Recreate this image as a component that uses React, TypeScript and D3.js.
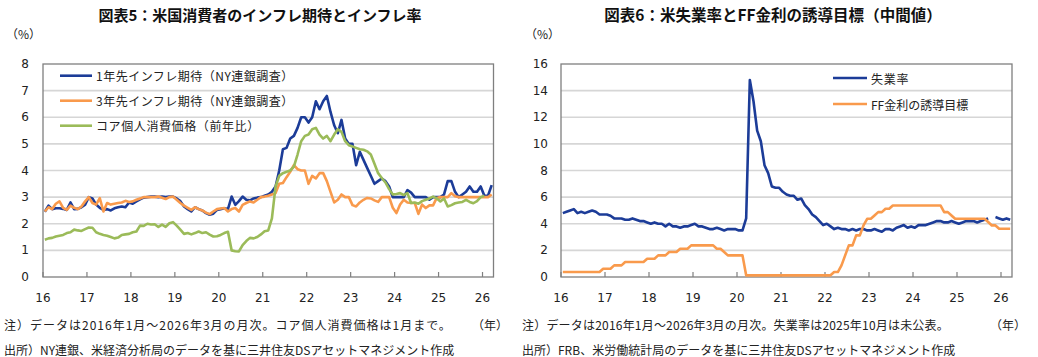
import React from "react";
import * as d3 from "d3";

// ---------- Data (monthly, Jan 2016 – Mar 2026) ----------
const yearLabels = ["16", "17", "18", "19", "20", "21", "22", "23", "24", "25", "26"];
const nMonths = 123;

// Chart 5
const exp1y = [
  2.45, 2.68, 2.55, 2.58, 2.58, 2.56, 2.52, 2.8, 2.55, 2.56, 2.62, 2.72,
  3.0, 2.95, 2.72, 2.6, 2.52, 2.55, 2.5, 2.58, 2.62, 2.65, 2.62, 2.8,
  2.75, 2.84, 2.92, 2.98, 3.0, 3.02, 3.02, 3.0, 3.02, 3.0, 3.02, 3.02,
  2.95, 2.85, 2.65, 2.55, 2.46, 2.62, 2.55, 2.5, 2.4, 2.34, 2.38, 2.52,
  2.55, 2.58, 2.55, 3.02, 2.71, 2.85, 3.02, 2.9, 2.88, 2.95, 2.98, 3.0,
  3.05, 3.1, 3.2, 3.4, 4.0, 4.8, 4.85, 5.2, 5.3, 5.6, 6.0, 6.0,
  5.8, 6.0, 6.6, 6.3, 6.6, 6.8, 6.2, 5.7, 5.4, 5.9, 5.2, 5.0,
  5.0, 4.2, 4.7, 4.4, 4.1, 3.8, 3.5, 3.6, 3.7, 3.6, 3.4, 3.0,
  3.0, 3.0, 3.0, 3.26, 3.17, 3.0, 3.0, 3.0, 3.0, 2.9, 3.0, 3.0,
  3.0, 3.1, 3.6, 3.6, 3.2, 3.0, 3.1, 3.2, 3.4, 3.2, 3.2, 3.4,
  3.05, 3.05, 3.45,
];
const exp3y = [
  2.46, 2.62, 2.55, 2.75, 2.84, 2.6, 2.52, 2.68, 2.6, 2.55, 2.65, 2.84,
  3.0, 2.78, 2.72, 2.96, 2.46, 2.78, 2.72, 2.75, 2.78, 2.8, 2.86, 2.82,
  2.84, 2.9, 2.95, 3.0, 3.0, 3.0, 3.0, 3.02, 2.98, 2.93, 3.0, 3.02,
  2.9, 2.78, 2.68, 2.6, 2.52, 2.62, 2.55, 2.5, 2.42, 2.36, 2.46, 2.55,
  2.57, 2.59, 2.46, 2.55, 2.59, 2.46, 2.71, 2.78, 2.84, 2.8, 2.9, 3.0,
  3.02, 3.05, 3.1, 3.15, 3.5, 3.53, 3.75, 3.95, 4.2, 4.05, 4.0, 4.0,
  3.5, 3.8, 3.7, 3.9, 3.9, 3.6, 3.2, 2.8, 2.9, 3.1, 3.0, 3.0,
  2.7, 2.65, 2.8, 2.9, 2.97, 2.95, 2.88, 2.82, 3.0, 3.0, 3.0, 2.6,
  2.4, 2.72, 2.9, 2.8, 2.78, 2.78, 2.37, 2.72, 2.59, 2.69, 2.69, 2.97,
  3.0, 3.0, 3.0, 3.15, 3.03, 3.0, 3.0, 3.0, 3.0, 3.0, 3.0, 3.0,
  3.0, 3.0, 3.1,
];
const corePce = [
  1.4, 1.45, 1.47, 1.52, 1.55, 1.58, 1.65, 1.68, 1.78, 1.75, 1.73, 1.8,
  1.86, 1.85, 1.68, 1.62, 1.58, 1.55, 1.5, 1.45, 1.48, 1.58, 1.6, 1.62,
  1.68, 1.71, 1.93, 1.92, 2.0, 1.97, 1.98, 1.88, 1.97, 1.88, 2.02, 2.06,
  1.93, 1.78, 1.62, 1.65, 1.6, 1.65, 1.71, 1.65, 1.68, 1.59, 1.52, 1.53,
  1.58, 1.65, 1.7, 1.0, 0.97, 0.96, 1.2, 1.35, 1.47, 1.45, 1.5, 1.6,
  1.72, 1.75, 2.2, 3.4, 3.8, 3.9, 3.95, 4.0, 4.15, 4.6, 5.1, 5.3,
  5.35, 5.55, 5.6, 5.35, 5.2, 5.3, 5.1, 5.35, 5.55, 5.45, 5.1, 4.95,
  4.9, 4.85, 4.8, 4.78, 4.72, 4.6, 4.25, 3.9, 3.72, 3.55, 3.3, 3.1,
  3.12, 3.15, 3.08, 3.15, 2.78, 2.8, 2.75, 2.85, 2.9, 2.95, 3.02, 2.95,
  2.84, 2.95, 2.65, 2.7, 2.77, 2.8, 2.82, 2.9, 2.82, 2.77, 2.85, 3.0,
  3.05,
];

// Chart 6
const unemployment = [
  4.8, 4.9, 5.0, 5.1, 4.8, 4.9, 4.8, 4.9, 5.0, 4.9, 4.7, 4.7,
  4.7, 4.6, 4.4, 4.4, 4.4, 4.3, 4.3, 4.4, 4.3, 4.2, 4.2, 4.1,
  4.0, 4.1, 4.0, 4.0, 3.8, 4.0, 3.8, 3.8, 3.7, 3.8, 3.8, 3.9,
  4.0, 3.8, 3.8, 3.7, 3.6, 3.6, 3.7, 3.6, 3.5, 3.6, 3.6, 3.6,
  3.5, 3.5, 4.4, 14.8, 13.2, 11.0, 10.2, 8.4, 7.8, 6.8, 6.7, 6.7,
  6.4, 6.2, 6.1, 6.1, 5.8, 5.9, 5.4, 5.1, 4.7, 4.5, 4.2, 3.9,
  4.0, 3.8, 3.6, 3.7, 3.6, 3.6, 3.5, 3.6, 3.5, 3.6, 3.6, 3.5,
  3.5, 3.6, 3.5, 3.4, 3.6, 3.6, 3.5, 3.7, 3.8, 3.9, 3.7, 3.8,
  3.7, 3.9, 3.9, 3.9, 4.0, 4.1, 4.2, 4.2, 4.1, 4.1, 4.2, 4.1,
  4.0, 4.1, 4.2, 4.2, 4.2, 4.1, 4.2, 4.3, 4.4, NaN, 4.5, 4.4,
  4.3, 4.4, 4.3,
];
const ffTarget = [
  0.375, 0.375, 0.375, 0.375, 0.375, 0.375, 0.375, 0.375, 0.375, 0.375, 0.375, 0.625,
  0.625, 0.625, 0.875, 0.875, 0.875, 1.125, 1.125, 1.125, 1.125, 1.125, 1.125, 1.375,
  1.375, 1.375, 1.625, 1.625, 1.625, 1.875, 1.875, 1.875, 2.125, 2.125, 2.125, 2.375,
  2.375, 2.375, 2.375, 2.375, 2.375, 2.375, 2.125, 2.125, 1.875, 1.625, 1.625, 1.625,
  1.625, 1.625, 0.125, 0.125, 0.125, 0.125, 0.125, 0.125, 0.125, 0.125, 0.125, 0.125,
  0.125, 0.125, 0.125, 0.125, 0.125, 0.125, 0.125, 0.125, 0.125, 0.125, 0.125, 0.125,
  0.125, 0.125, 0.375, 0.375, 0.875, 1.625, 2.375, 2.375, 3.125, 3.125, 3.875, 4.375,
  4.375, 4.625, 4.875, 4.875, 5.125, 5.125, 5.375, 5.375, 5.375, 5.375, 5.375, 5.375,
  5.375, 5.375, 5.375, 5.375, 5.375, 5.375, 5.375, 5.375, 4.875, 4.875, 4.625, 4.375,
  4.375, 4.375, 4.375, 4.375, 4.375, 4.375, 4.375, 4.375, 4.125, 3.875, 3.875, 3.625,
  3.625, 3.625, 3.625,
];

const leftTicks = [0, 1, 2, 3, 4, 5, 6, 7, 8];
const rightTicks = [0, 2, 4, 6, 8, 10, 12, 14, 16];

const BLUE = "#1c3c98";
const ORANGE = "#f99a4c";
const GREEN = "#9bbb59";
const GRID = "#d6d6d6";
const FRAME = "#7f7f7f";
const NUM_FONT = "'DejaVu Sans', Verdana, sans-serif";
const JP_FONT = "'Noto Sans CJK JP', 'Noto Sans', sans-serif";

type Series = { name: string; values: number[]; color: string; spacing: number };

function Panel(props: {
  x0: number; x1: number; y0: number; y1: number;
  yMax: number; yTicks: number[]; labelEnd: number;
  series: Series[]; legendX: number; legendY: number; legendStep: number; legendLen: number;
}) {
  const { x0, x1, y0, y1, yMax, yTicks, labelEnd, series, legendX, legendY, legendStep, legendLen } = props;
  const x = d3.scaleLinear().domain([0, nMonths]).range([x0, x1]);
  const y = d3.scaleLinear().domain([0, yMax]).range([y1, y0]);
  const line = d3
    .line<number>()
    .defined((v) => !isNaN(v))
    .x((_, i) => x(i + 0.5))
    .y((v) => y(v));
  const xTicks = yearLabels.map((l, k) => ({ l, v: k * 12 }));
  return (
    <g>
      {yTicks.map((t) => (
        <g key={t}>
          {t > 0 && t < yMax && (
            <line x1={x0} x2={x1} y1={y(t)} y2={y(t)} stroke={GRID} strokeWidth={1.6} />
          )}
          <text x={labelEnd} y={y(t)} textAnchor="end" dominantBaseline="central"
            fontFamily={NUM_FONT} fontSize={12} fill="#222">{t}</text>
        </g>
      ))}
      <rect x={x0} y={y0} width={x1 - x0} height={y1 - y0} fill="none" stroke={FRAME} strokeWidth={1.3} />
      {xTicks.map((t) => (
        <g key={t.l}>
          <line x1={x(t.v)} x2={x(t.v)} y1={y1} y2={y1 - 5} stroke={FRAME} strokeWidth={1.2} />
          <text x={x(t.v)} y={y1 + 21} textAnchor="middle" dominantBaseline="central"
            fontFamily={NUM_FONT} fontSize={12} fill="#222">{t.l}</text>
        </g>
      ))}
      {series.map((s) => (
        <path key={s.name} d={line(s.values) || ""} fill="none" stroke={s.color}
          strokeWidth={2.6} strokeLinejoin="round" />
      ))}
      {series.map((s, k) => (
        <g key={"lg" + s.name}>
          <line x1={legendX} x2={legendX + legendLen} y1={legendY + k * legendStep}
            y2={legendY + k * legendStep} stroke={s.color} strokeWidth={2.6} />
          <text x={legendX + legendLen + 4} y={legendY + k * legendStep} dominantBaseline="central"
            fontFamily={JP_FONT} fontSize={12} fill="#222" letterSpacing={s.spacing}>{s.name}</text>
        </g>
      ))}
    </g>
  );
}

const noteStyle = { fontFamily: JP_FONT, fontSize: 12, fill: "#222" };

export default function App() {
  return (
    <svg width={1038} height={357} style={{ position: "absolute", left: 0, top: 0, background: "#fff" }}>
      <rect width={1038} height={357} fill="#fff" />
      <text x={260} y={14} textAnchor="middle" dominantBaseline="central" fontFamily={JP_FONT}
        fontWeight="bold" fontSize={15} fill="#111">図表5：米国消費者のインフレ期待とインフレ率</text>
      <text x={773} y={14} textAnchor="middle" dominantBaseline="central" fontFamily={JP_FONT}
        fontWeight="bold" fontSize={15.5} fill="#111">図表6：米失業率とFF金利の誘導目標（中間値）</text>
      <text x={6} y={33} dominantBaseline="central" {...noteStyle}>（%）</text>
      <text x={525} y={33} dominantBaseline="central" {...noteStyle}>（%）</text>

      <Panel x0={43} x1={493.5} y0={64} y1={277} yMax={8} yTicks={leftTicks} labelEnd={29}
        series={[
          { name: "1年先インフレ期待（NY連銀調査）", values: exp1y, color: BLUE, spacing: 0.5 },
          { name: "3年先インフレ期待（NY連銀調査）", values: exp3y, color: ORANGE, spacing: 0.5 },
          { name: "コア個人消費価格（前年比）", values: corePce, color: GREEN, spacing: 0.6 },
        ]}
        legendX={60} legendY={75.7} legendStep={25} legendLen={32} />
      <Panel x0={561} x1={1012} y0={64} y1={277} yMax={16} yTicks={rightTicks} labelEnd={548}
        series={[
          { name: "失業率", values: unemployment, color: BLUE, spacing: 0.8 },
          { name: "FF金利の誘導目標", values: ffTarget, color: ORANGE, spacing: 0 },
        ]}
        legendX={833} legendY={78} legendStep={26} legendLen={34} />

      <text x={4} y={324.5} dominantBaseline="central" {...noteStyle} letterSpacing={1}>
        注）データは2016年1月～2026年3月の月次。コア個人消費価格は1月まで。</text>
      <text x={508} y={324.5} textAnchor="end" dominantBaseline="central" {...noteStyle}>（年）</text>
      <text x={4} y={349} dominantBaseline="central" {...noteStyle}>
        出所）NY連銀、米経済分析局のデータを基に三井住友DSアセットマネジメント作成</text>

      <text x={522} y={324.5} dominantBaseline="central" {...noteStyle} letterSpacing={0.2}>
        注）データは2016年1月～2026年3月の月次。失業率は2025年10月は未公表。</text>
      <text x={1026} y={324.5} textAnchor="end" dominantBaseline="central" {...noteStyle}>（年）</text>
      <text x={522} y={349} dominantBaseline="central" {...noteStyle}>
        出所）FRB、米労働統計局のデータを基に三井住友DSアセットマネジメント作成</text>
    </svg>
  );
}
